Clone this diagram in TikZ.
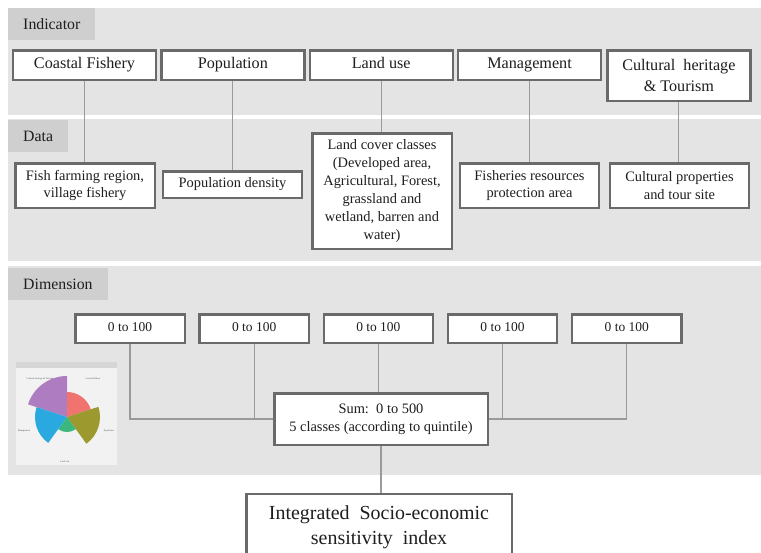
\documentclass[tikz,border=0pt]{standalone}
\usepackage{fontspec}
\setmainfont{Liberation Serif}
\usepackage{tikz}
\usetikzlibrary{positioning}
\definecolor{grisfondo}{HTML}{E4E4E4}
\definecolor{grisrotulo}{HTML}{CFCFCF}
\definecolor{grisborde}{HTML}{6A6A6A}
\definecolor{grislinea}{HTML}{9A9A9A}
\definecolor{textooscuro}{HTML}{1E1E1E}
\definecolor{panelrosa}{HTML}{F2F2F2}
\definecolor{tirarosa}{HTML}{D6D6D6}
\definecolor{salmon}{HTML}{F0736F}
\definecolor{oliva}{HTML}{9C9A2E}
\definecolor{verderosa}{HTML}{3CB87E}
\definecolor{azulrosa}{HTML}{2AA8E0}
\definecolor{moradorosa}{HTML}{AE7CC0}

\begin{document}
\begin{tikzpicture}[
    x=0.03cm, y=-0.03cm,
    caja/.style={draw=grisborde, line width=2pt, fill=white, align=center,
      text=textooscuro, inner sep=1pt},
    indicador/.style={caja, minimum width=4.29cm, minimum height=0.88cm,
      font=\fontsize{13.8}{18.7}\selectfont},
    unalinea/.style={text height=1.6ex, text depth=0.45ex},
    dato/.style={caja, minimum width=4.18cm, minimum height=1.33cm,
      font=\fontsize{12.3}{15.3}\selectfont},
    rango/.style={caja, unalinea, minimum width=3.28cm, minimum height=0.85cm,
      font=\fontsize{11.5}{14}\selectfont},
    rotulo/.style={fill=grisrotulo, anchor=north west, inner xsep=0.45cm,
      inner ysep=0pt, minimum height=0.96cm, text=textooscuro,
      font=\fontsize{13.5}{16}\selectfont},
    etiquetarosa/.style={inner sep=0pt, text=black!70, font=\fontsize{2}{2.4}\selectfont},
    linea/.style={draw=grislinea, line width=0.9pt}
  ]
    \useasboundingbox[fill=white] (0,0) rectangle (761,552);

    % paneles
    \fill[grisfondo] (8,8) rectangle (761,115);
    \fill[grisfondo] (8,119) rectangle (761,261);
    \fill[grisfondo] (8,266) rectangle (761,475);
    \node[rotulo] (indicator) at (8,8) {Indicator};
    \node[rotulo] (data) at (8,120) {Data};
    \node[rotulo] (dimension) at (8,268) {Dimension};

    % indicadores
    \node[indicador, unalinea] (coastal) at (84.5,65) {Coastal Fishery};
    \node[indicador, unalinea, right=0.09cm of coastal] (population) {Population};
    \node[indicador, unalinea, right=0.09cm of population] (landuse) {Land use};
    \node[indicador, unalinea, right=0.09cm of landuse] (management) {Management};
    \node[indicador, minimum height=1.51cm, right=0.12cm of management.north east,
      anchor=north west] (cultural) {Cultural\ \ heritage\\\& Tourism};

    % datos
    \node[dato] (fishfarm) at (85,185.5) {Fish farming region,\\village fishery};
    \node[dato, unalinea, minimum height=0.79cm] (popdens) at (232.5,184.5) {Population density};
    \node[dato, minimum height=3.46cm] (landcover) at (382,191)
      {Land cover classes\\(Developed area,\\Agricultural, Forest,\\grassland and\\wetland, barren and\\water)};
    \node[dato] (fishprot) at (529.5,185.5) {Fisheries resources\\protection area};
    \node[dato] (cultprop) at (679.5,185.5) {Cultural properties\\and tour site};

    \draw[linea] (coastal.south) -- (coastal.south |- fishfarm.north);
    \draw[linea] (population.south) -- (population.south |- popdens.north);
    \draw[linea] (landuse.south) -- (landuse.south |- landcover.north);
    \draw[linea] (management.south) -- (management.south |- fishprot.north);
    \draw[linea] (cultural.south) -- (cultural.south |- cultprop.north);

    % dimensiones
    \node[rango] (d1) at (130,328.5) {0 to 100};
    \node[rango, right=0.375cm of d1] (d2) {0 to 100};
    \node[rango, right=0.375cm of d2] (d3) {0 to 100};
    \node[rango, right=0.375cm of d3] (d4) {0 to 100};
    \node[rango, right=0.375cm of d4] (d5) {0 to 100};

    \node[caja, minimum width=6.4cm, minimum height=1.54cm,
      font=\fontsize{12.3}{15.3}\selectfont] (sum) at (381,419)
      {Sum:\ \ 0 to 500\\5 classes (according to quintile)};
    \node[caja, minimum width=7.96cm, minimum height=1.98cm, anchor=north,
      font=\fontsize{17}{21.3}\selectfont] (final) at (379,493)
      {Integrated\ \ Socio-economic\\sensitivity\ \ index};

    \draw[linea] (d1.south) |- (sum.west);
    \draw[linea] (d5.south) |- (sum.east);
    \draw[linea] (d2.south) -- (d2.south |- sum.west);
    \draw[linea] (d4.south) -- (d4.south |- sum.east);
    \draw[linea] (d3.south) -- (d3.south |- sum.north);
    \draw[linea] (sum.south) -- (sum.south |- final.north);

    % grafico de rosa
    \fill[panelrosa] (16,362) rectangle (117,465);
    \fill[tirarosa] (16,362) rectangle (117,368);
    \begin{scope}[shift={(67,417)}, x=0.03cm, y=0.03cm]
      \fill[moradorosa] (0,0) -- (90:41) arc[start angle=90, end angle=162, radius=41] -- cycle;
      \fill[salmon] (0,0) -- (18:25) arc[start angle=18, end angle=90, radius=25] -- cycle;
      \fill[oliva] (0,0) -- (-54:33) arc[start angle=-54, end angle=18, radius=33] -- cycle;
      \fill[verderosa] (0,0) -- (-126:15) arc[start angle=-126, end angle=-54, radius=15] -- cycle;
      \fill[azulrosa] (0,0) -- (162:32) arc[start angle=162, end angle=234, radius=32] -- cycle;
    \end{scope}
    \node[etiquetarosa] (rcult) at (40,379) {Cultural heritage \& Tourism};
    \node[etiquetarosa] (rcoast) at (93,379) {Coastal Fishery};
    \node[etiquetarosa] (rpop) at (109,431) {Population};
    \node[etiquetarosa] (rland) at (65,462) {Land Use};
    \node[etiquetarosa] (rman) at (24,431) {Management};
  \end{tikzpicture}
\end{document}
